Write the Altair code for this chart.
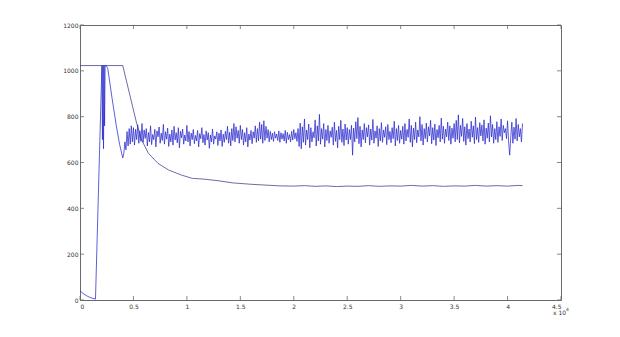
import altair as alt
import numpy as np
import pandas as pd

# ---- data (x in units of 10^4) ----
smooth_x = [0, 0.40, 0.50, 0.53, 0.577, 0.64, 0.73, 0.83, 0.95, 1.05, 1.17, 1.30, 1.43, 1.60, 1.87,
            2.0, 2.1, 2.2, 2.3, 2.4, 2.5, 2.6, 2.7, 2.8, 2.9, 3.0, 3.1, 3.2, 3.3, 3.4, 3.5,
            3.6, 3.7, 3.8, 3.9, 4.0, 4.1, 4.14]
smooth_y = [1023, 1023, 829, 771, 698, 640, 596, 567, 545, 531, 527, 520, 511, 505, 498,
            497, 499, 496, 498, 495, 497, 496, 499, 496, 498, 497, 500, 497, 499, 496, 498,
            497, 500, 497, 499, 497, 500, 499]

start_x = [0, 0.03, 0.06, 0.09, 0.12, 0.145, 0.205, 0.21, 0.215, 0.22, 0.225, 0.23, 0.235,
           0.245, 0.26, 0.30, 0.34, 0.37, 0.40]
start_y = [40, 28, 19, 12, 7, 4, 1023, 700, 1023, 660, 1023, 760, 1023,
           1023, 1010, 880, 760, 680, 620]

noise_x_first = 0.41
noise_x_last = 4.14
noise_y = [
    640, 690, 655, 735, 672, 748, 680, 760, 690, 752, 676, 745, 700, 765, 684, 738, 692, 770, 688, 742,
    705, 748, 672, 731, 690, 760, 678, 722, 700, 745,
    668, 738, 712, 755, 684, 728, 696, 766, 680, 734,
    702, 750, 670, 724, 690, 742, 676, 758, 698, 730,
    686, 752, 664, 736, 708, 746, 680, 720, 694, 762,
    690, 735, 672, 728, 700, 744, 682, 718, 694, 740,
    668, 726, 704, 752, 686, 722, 676, 738, 698, 730,
    662, 720, 690, 746, 680, 716, 702, 734, 674, 728,
    694, 742, 670, 724, 688, 736, 700, 758, 684, 732,
    672, 748, 696, 770, 690, 756, 706, 740, 684, 762,
    700, 744, 676, 730, 690, 752, 668, 724, 698, 740,
    682, 734, 706, 760, 688, 748, 694, 776, 702, 766,
    684, 782, 696, 758, 706, 744, 690, 736, 700, 728,
    692, 734, 706, 724, 696, 738, 688, 730, 702, 726,
    694, 740, 684, 732, 700, 722, 690, 736, 698, 744,
    704, 730, 692, 748, 670, 772, 660, 756, 688, 790,
    676, 742, 700, 768, 664, 752, 690, 734, 708, 786,
    672, 760, 694, 810, 680, 748, 702, 770, 668, 744,
    696, 762, 684, 738, 710, 754, 676, 776, 692, 740,
    664, 758, 700, 784, 688, 746, 674, 768, 698, 752,
    680, 744, 700, 762, 632, 750, 690, 778, 704, 796,
    682, 758, 668, 742, 700, 770, 686, 752, 712, 764,
    676, 746, 698, 788, 684, 738, 706, 760, 670, 748,
    694, 774, 688, 742, 710, 756, 678, 766, 700, 736,
    686, 752, 704, 780, 672, 748, 696, 762, 684, 740,
    702, 758, 680, 770, 694, 744, 710, 790, 688, 762,
    668, 750, 700, 776, 686, 742, 712, 800, 694, 766,
    676, 748, 704, 772, 690, 756, 716, 784, 682, 752,
    698, 768, 674, 744, 708, 762, 690, 794, 702, 758,
    684, 746, 712, 776, 696, 760, 680, 750, 706, 770,
    690, 784, 700, 808, 686, 762, 714, 792, 692, 756,
    676, 770, 704, 746, 690, 780, 710, 760, 682, 798,
    700, 752, 688, 774, 716, 764, 694, 786, 680, 750,
    706, 772, 690, 804, 712, 766, 684, 748, 700, 778,
    688, 756, 714, 790, 696, 762, 730, 748, 704, 782,
    690, 632, 710, 776, 684, 754, 702, 792, 694, 766,
    712, 748, 690, 770,
]

x_ticks = [0, 0.5, 1, 1.5, 2, 2.5, 3, 3.5, 4, 4.5]
y_ticks = [0, 200, 400, 600, 800, 1000, 1200]

# ---- tables ----
noise_x = np.linspace(noise_x_first, noise_x_last, len(noise_y))
noisy = pd.DataFrame({
    "x": list(start_x) + list(noise_x),
    "y": list(start_y) + list(noise_y),
})
noisy["i"] = range(len(noisy))
smooth = pd.DataFrame({"x": smooth_x, "y": smooth_y})
smooth["i"] = range(len(smooth))
xt = pd.DataFrame({"t": x_ticks})
yt = pd.DataFrame({"t": y_ticks})

W, H = 481, 275
AX = "#6a6a6a"
LBL = "#333333"
FONT = "DejaVu Sans"

xscale = alt.Scale(domain=[0, 4.5], nice=False, zero=False)
yscale = alt.Scale(domain=[0, 1200], nice=False)

xaxis = alt.Axis(values=x_ticks, format="~g", title=None, domain=False, ticks=False,
                 grid=False, labelFontSize=6, labelColor=LBL, labelFont=FONT, labelPadding=3)
yaxis = alt.Axis(values=y_ticks, format="d", title=None, domain=False, ticks=False,
                 grid=False, labelFontSize=6, labelColor=LBL, labelFont=FONT, labelPadding=2)

smooth_line = alt.Chart(smooth).mark_line(color="#46468c", strokeWidth=0.8).encode(
    x=alt.X("x:Q", scale=xscale, axis=xaxis),
    y=alt.Y("y:Q", scale=yscale, axis=yaxis),
    order="i:Q",
)
noisy_line = alt.Chart(noisy).mark_line(color="#2a2acc", strokeWidth=0.75).encode(
    x=alt.X("x:Q", scale=xscale),
    y=alt.Y("y:Q", scale=yscale),
    order="i:Q",
)

tick_style = dict(color=AX, strokeWidth=0.8)
xt_bottom = alt.Chart(xt).mark_rule(**tick_style).encode(
    x=alt.X("t:Q", scale=xscale), y=alt.value(H), y2=alt.value(H - 4))
xt_top = alt.Chart(xt).mark_rule(**tick_style).encode(
    x=alt.X("t:Q", scale=xscale), y=alt.value(0), y2=alt.value(4))
yt_left = alt.Chart(yt).mark_rule(**tick_style).encode(
    y=alt.Y("t:Q", scale=yscale), x=alt.value(0), x2=alt.value(4))
yt_right = alt.Chart(yt).mark_rule(**tick_style).encode(
    y=alt.Y("t:Q", scale=yscale), x=alt.value(W), x2=alt.value(W - 4))

exp_base = alt.Chart(pd.DataFrame({"s": ["x 10"]})).mark_text(
    fontSize=6, font=FONT, color=LBL, align="left", baseline="middle").encode(
    text="s:N", x=alt.value(W - 8), y=alt.value(H + 13))
exp_sup = alt.Chart(pd.DataFrame({"s": ["4"]})).mark_text(
    fontSize=4.5, font=FONT, color=LBL, align="left", baseline="middle").encode(
    text="s:N", x=alt.value(W + 5), y=alt.value(H + 10))

chart = alt.layer(
    smooth_line, noisy_line, xt_bottom, xt_top, yt_left, yt_right, exp_base, exp_sup
).properties(
    width=W, height=H,
    autosize=alt.AutoSizeParams(type="none"),
    padding={"left": 80, "top": 25, "right": 59, "bottom": 37},
    background="white",
).configure_view(stroke=AX, strokeWidth=1)

chart.save("out.html", embed_options={"renderer": "svg", "actions": False})
